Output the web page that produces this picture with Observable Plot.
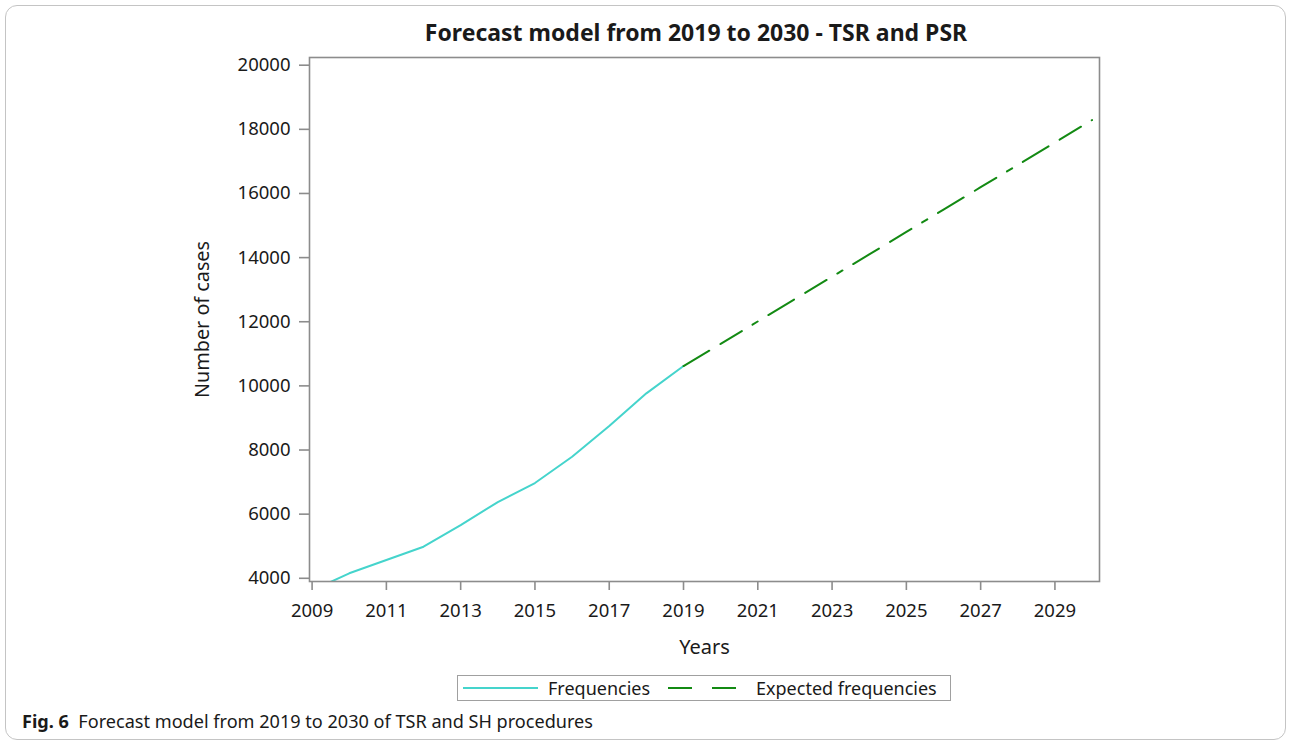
<!DOCTYPE html>
<html>
<head>
<meta charset="utf-8">
<script src="https://cdn.jsdelivr.net/npm/d3@7"></script>
<script src="https://cdn.jsdelivr.net/npm/@observablehq/plot@0.6"></script>
<style>
  body { margin: 0; width: 1290px; height: 746px; overflow: hidden; background: #fff; font-family: "Noto Sans", sans-serif; color: #1a1a1a; }
  #card { position: absolute; left: 5px; top: 5px; width: 1281px; height: 735px; border: 1px solid #c4c4c4; border-radius: 12px; box-sizing: border-box; }
  #title { position: absolute; top: 16px; left: 0; width: 1392px; text-align: center; font-size: 23px; font-weight: bold; white-space: nowrap; }
  #chart { position: absolute; left: 0; top: 0; }
  #legend { position: absolute; left: 457px; top: 675px; width: 494px; height: 26px; border: 1.5px solid #a0a0a0; box-sizing: border-box; font-size: 18px; }
  #legend .item { position: absolute; top: 0; height: 23px; display: flex; align-items: center; white-space: nowrap; }
  #legend svg { display: block; }
  #caption { position: absolute; left: 22px; top: 709px; font-size: 18.1px; white-space: nowrap; }
</style>
</head>
<body>
<div id="card"></div>
<div id="title">Forecast model from 2019 to 2030 - TSR and PSR</div>
<div id="chart"></div>
<div id="legend">
  <div class="item" style="left:5px">
    <svg width="75" height="4" style="margin-right:10px"><line x1="0" y1="2" x2="75" y2="2" stroke="#45d4cc" stroke-width="2"/></svg>
    <span>Frequencies</span>
  </div>
  <div class="item" style="left:210px">
    <svg width="70" height="4" style="margin-right:18px"><line x1="0" y1="2" x2="70" y2="2" stroke="#138a13" stroke-width="2" stroke-dasharray="24,20"/></svg>
    <span>Expected frequencies</span>
  </div>
</div>
<div id="caption"><b>Fig. 6</b>&nbsp; Forecast model from 2019 to 2030 of TSR and SH procedures</div>
<script>
// Observed yearly case counts
const obsYears = [2009, 2010, 2011, 2012, 2013, 2014, 2015, 2016, 2017, 2018, 2019];
const obsCases = [3620, 4156, 4570, 4985, 5661, 6378, 6970, 7790, 8747, 9767, 10618];

// Forecast (expected) case counts
const fcYears = [2019, 2020, 2021, 2022, 2023, 2024, 2025, 2026, 2027, 2028, 2029, 2030];
const fcCases = [10618, 11310, 12010, 12710, 13405, 14100, 14800, 15495, 16195, 16890, 17590, 18290];

// Axis ticks
const xTicks = [2009, 2011, 2013, 2015, 2017, 2019, 2021, 2023, 2025, 2027, 2029];
const yTicks = [4000, 6000, 8000, 10000, 12000, 14000, 16000, 18000, 20000];

const observed = obsYears.map((year, i) => ({year, cases: obsCases[i]}));
const forecast = fcYears.map((year, i) => ({year, cases: fcCases[i]}));

const axisColor = "#8c8c8c";

const chart = Plot.plot({
  width: 1290,
  height: 670,
  marginLeft: 309,
  marginRight: 191,
  marginTop: 57,
  marginBottom: 89,
  style: {fontFamily: "Noto Sans, sans-serif", fontSize: "18.5px", color: "#1a1a1a", background: "transparent"},
  x: {domain: [2008.93, 2030.2]},
  y: {domain: [3900, 20240]},
  marks: [
    Plot.line(observed, {x: "year", y: "cases", stroke: "#45d4cc", strokeWidth: 2, clip: true}),
    // long-long-short dash pattern for the forecast
    Plot.line(forecast, {x: "year", y: "cases", stroke: "#138a13", strokeWidth: 2, strokeDasharray: "30,13,25,12.5,6,12.5", clip: true}),
    Plot.frame({stroke: axisColor, strokeWidth: 1.6}),
    Plot.axisX({
      ticks: xTicks, tickFormat: d => String(d), tickSize: 9, tickPadding: 13,
      stroke: axisColor, strokeWidth: 1.6, fill: "#1a1a1a", label: null
    }),
    Plot.axisX({
      ticks: [], label: "Years", labelAnchor: "center", labelArrow: "none", labelOffset: 72,
      fontSize: 20, fill: "#1a1a1a"
    }),
    Plot.axisY({
      ticks: yTicks, tickFormat: d => String(d), tickSize: 10, tickPadding: 9,
      stroke: axisColor, strokeWidth: 1.6, fill: "#1a1a1a", label: null
    }),
    Plot.axisY({
      ticks: [], label: "Number of cases", labelAnchor: "center", labelArrow: "none", labelOffset: 115,
      fontSize: 19.8, fill: "#1a1a1a"
    })
  ]
});
document.getElementById("chart").appendChild(chart);
</script>
</body>
</html>
